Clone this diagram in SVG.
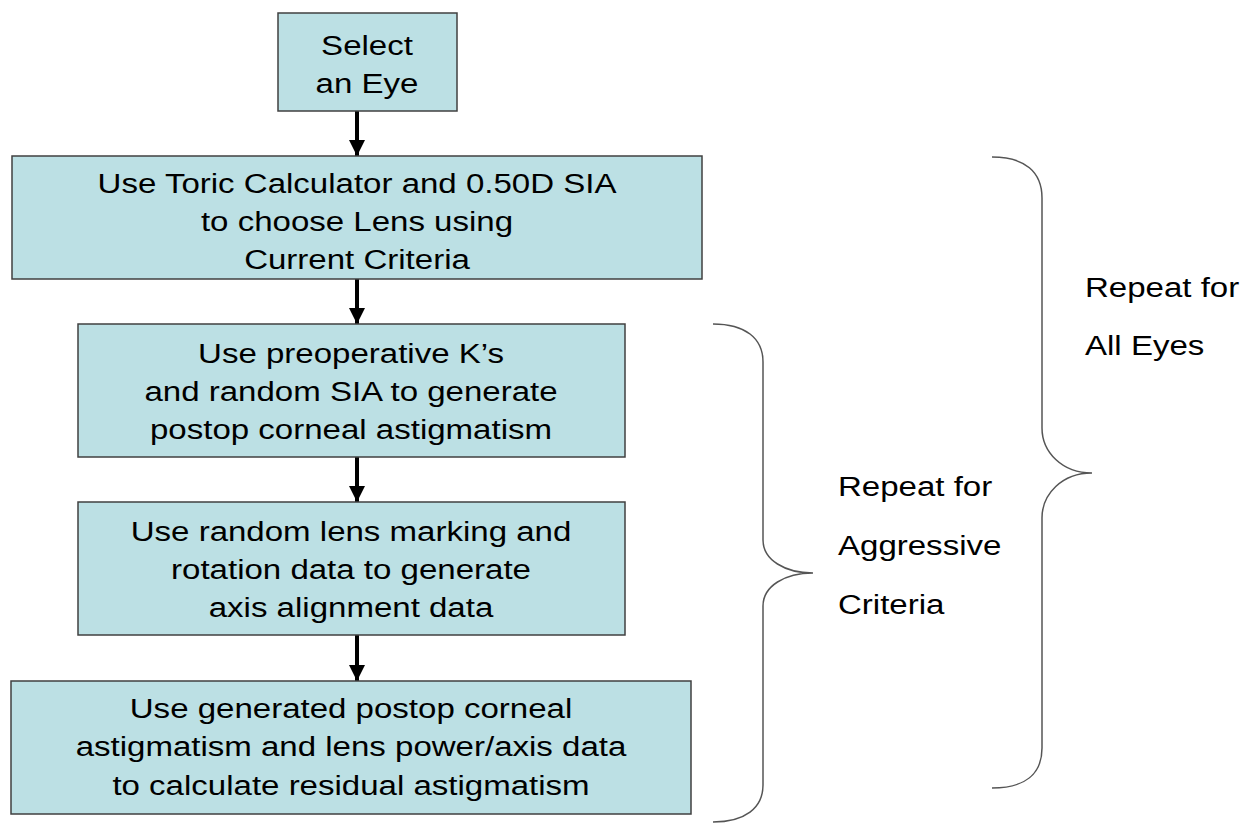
<svg xmlns="http://www.w3.org/2000/svg" width="1240" height="825" viewBox="0 0 1240 825">
<defs>
<style>
.box{fill:#BCE0E4;stroke:#404040;stroke-width:1.5}
.t{font-family:"Liberation Sans",Arial,sans-serif;font-size:28px;fill:#000;text-anchor:middle}
.l{font-family:"Liberation Sans",Arial,sans-serif;font-size:28px;fill:#000}
.conn{stroke:#000;stroke-width:4;fill:none}
.brace{stroke:#555;stroke-width:1.5;fill:none}
</style>
<marker id="ah" viewBox="0 0 10 10" refX="10" refY="5" markerWidth="4" markerHeight="4" orient="auto" markerUnits="strokeWidth">
<path d="M0,0 L10,5 L0,10 z" fill="#000"/>
</marker>
</defs>
<rect width="1240" height="825" fill="#fff"/>
<g id="connectors">
<line class="conn" x1="357" y1="111" x2="357" y2="156" marker-end="url(#ah)"/>
<line class="conn" x1="357" y1="279" x2="357" y2="324" marker-end="url(#ah)"/>
<line class="conn" x1="357" y1="457" x2="357" y2="502" marker-end="url(#ah)"/>
<line class="conn" x1="357" y1="635" x2="357" y2="681" marker-end="url(#ah)"/>
</g>
<g id="n1">
<rect class="box" x="278" y="13" width="179" height="98"/>
<g transform="translate(367,0) scale(1.18,1)"><text class="t" x="0" y="55">Select</text><text class="t" x="0" y="93">an Eye</text></g>
</g>
<g id="n2">
<rect class="box" x="12" y="156" width="690" height="123"/>
<g transform="translate(357,0) scale(1.18,1)"><text class="t" x="0" y="193">Use Toric Calculator and 0.50D SIA</text><text class="t" x="0" y="231">to choose Lens using</text><text class="t" x="0" y="269">Current Criteria</text></g>
</g>
<g id="n3">
<rect class="box" x="78" y="324" width="547" height="133"/>
<g transform="translate(351,0) scale(1.18,1)"><text class="t" x="0" y="363">Use preoperative K’s</text><text class="t" x="0" y="401">and random SIA to generate</text><text class="t" x="0" y="439">postop corneal astigmatism</text></g>
</g>
<g id="n4">
<rect class="box" x="78" y="502" width="547" height="133"/>
<g transform="translate(351,0) scale(1.18,1)"><text class="t" x="0" y="541">Use random lens marking and</text><text class="t" x="0" y="579">rotation data to generate</text><text class="t" x="0" y="617">axis alignment data</text></g>
</g>
<g id="n5">
<rect class="box" x="11" y="681" width="680" height="133"/>
<g transform="translate(351,0) scale(1.18,1)"><text class="t" x="0" y="718">Use generated postop corneal</text><text class="t" x="0" y="756">astigmatism and lens power/axis data</text><text class="t" x="0" y="795">to calculate residual astigmatism</text></g>
</g>
<g id="brace-inner">
<path class="brace" d="M713,324 C745,324 763,338 763,362 L763,540 C763,560 785,573 813,573 C785,573 763,586 763,606 L763,785 C763,808 745,822 713,822"/>
<g transform="translate(838,0) scale(1.18,1)"><text class="l" x="0" y="496">Repeat for</text><text class="l" x="0" y="555">Aggressive</text><text class="l" x="0" y="614">Criteria</text></g>
</g>
<g id="brace-outer">
<path class="brace" d="M992,157 C1025,157 1042,172 1042,198 L1042,428 C1042,452 1062,473 1092,473 C1062,473 1042,494 1042,518 L1042,748 C1042,774 1025,788 992,788"/>
<g transform="translate(1085,0) scale(1.18,1)"><text class="l" x="0" y="297">Repeat for</text><text class="l" x="0" y="355">All Eyes</text></g>
</g>
</svg>
